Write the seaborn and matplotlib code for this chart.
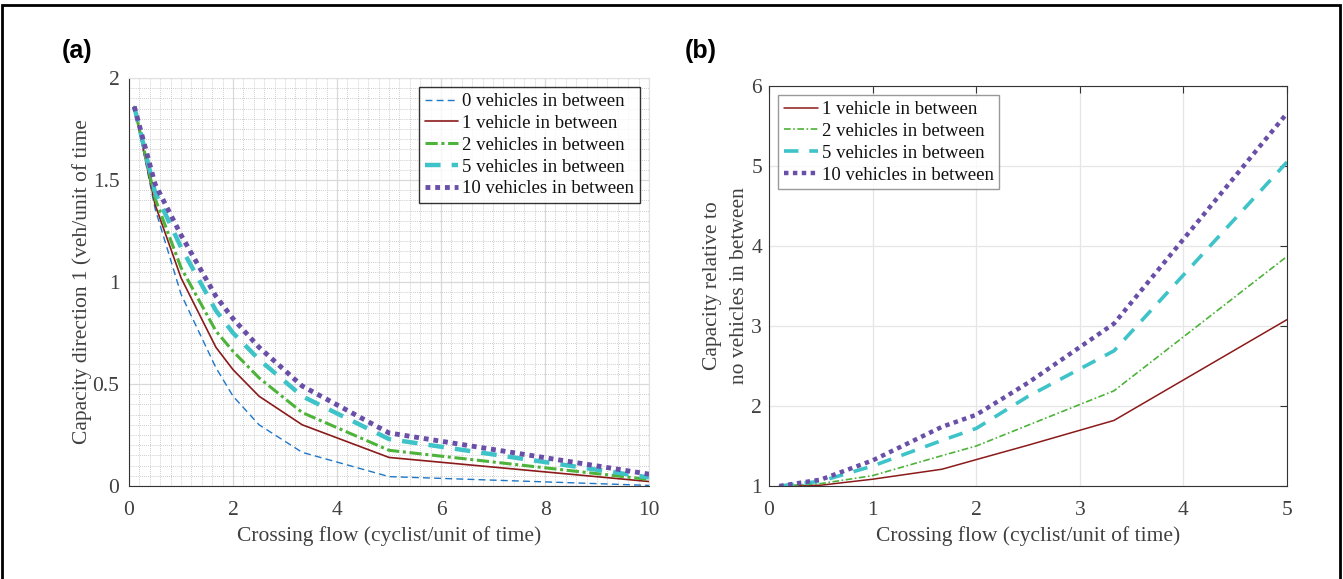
import matplotlib
matplotlib.use('Agg')
import matplotlib.pyplot as plt
import seaborn as sns
from matplotlib.patches import Rectangle
from matplotlib.ticker import MultipleLocator


flow = [0.1, 0.5, 1, 1.67, 2, 2.5, 3.33, 5, 10]
cap_0 = [1.86, 1.36, 0.94, 0.58, 0.44, 0.30, 0.165, 0.046, 0.003]
cap_1 = [1.86, 1.38, 1.02, 0.68, 0.57, 0.44, 0.30, 0.14, 0.022]
cap_2 = [1.86, 1.41, 1.07, 0.76, 0.66, 0.53, 0.36, 0.175, 0.032]
cap_5 = [1.86, 1.44, 1.17, 0.86, 0.75, 0.62, 0.44, 0.23, 0.042]
cap_10 = [1.86, 1.48, 1.23, 0.93, 0.82, 0.68, 0.49, 0.26, 0.058]

flow_rel = [0.1, 0.5, 1, 1.67, 2, 2.5, 3.33, 5]
rel_1 = [1.0, 1.01, 1.085, 1.21, 1.33, 1.51, 1.82, 3.08]
rel_2 = [1.0, 1.03, 1.13, 1.38, 1.50, 1.76, 2.19, 3.87]
rel_5 = [1.0, 1.06, 1.25, 1.57, 1.72, 2.12, 2.69, 5.05]
rel_10 = [1.0, 1.08, 1.32, 1.74, 1.89, 2.29, 3.03, 5.66]

blue = '#1f77c8'
red = '#8b1a1a'
green = '#4db33a'
cyan = '#3ec3c8'
purple = '#6a4fa8'

sns.set_style('white')
plt.rcParams['font.family'] = ['Liberation Serif', 'DejaVu Serif']
plt.rcParams['xtick.direction'] = 'in'
plt.rcParams['ytick.direction'] = 'in'

fig = plt.figure(figsize=(13.43, 5.79), dpi=100)
ax1 = fig.add_axes([0.0961, 0.1606, 0.3872, 0.7047])
ax2 = fig.add_axes([0.5726, 0.1606, 0.3857, 0.6908])

txt = '#404040'
fs = 15.5

# ---- panel (a)
sns.lineplot(x=flow, y=cap_0, ax=ax1, color=blue, lw=1, linestyle=(0, (5, 3)),
             label='0 vehicles in between')
sns.lineplot(x=flow, y=cap_1, ax=ax1, color=red, lw=1.2, linestyle='-',
             label='1 vehicle in between')
sns.lineplot(x=flow, y=cap_2, ax=ax1, color=green, lw=2.2, linestyle=(0, (4, 1.2, 1, 1.2)),
             label='2 vehicles in between')
sns.lineplot(x=flow, y=cap_5, ax=ax1, color=cyan, lw=3.2, linestyle=(0, (3.5, 2.5)),
             label='5 vehicles in between')
sns.lineplot(x=flow, y=cap_10, ax=ax1, color=purple, lw=3.5, linestyle=(0, (1, 1)),
             label='10 vehicles in between')

ax1.set_xlim(0, 10)
ax1.set_ylim(0, 2)
ax1.set_xticks([0, 2, 4, 6, 8, 10])
ax1.set_yticks([0, 0.5, 1, 1.5, 2])
ax1.set_yticklabels(['0', '0.5', '1', '1.5', '2'])
ax1.xaxis.set_minor_locator(MultipleLocator(0.2))
ax1.yaxis.set_minor_locator(MultipleLocator(0.05))
ax1.grid(which='major', color='#d9d9d9', lw=0.9)
ax1.grid(which='minor', color='#bdbdbd', lw=0.6, linestyle=(0, (1, 1.5)))
ax1.tick_params(which='minor', length=0)
ax1.tick_params(which='major', length=5, colors='#333333', labelcolor=txt, labelsize=fs,
                top=False, right=False)
ax1.tick_params(axis='x', pad=11)
ax1.tick_params(axis='y', pad=7)
for s in ['top', 'right']:
    ax1.spines[s].set_color('#e0e0e0')
for s in ['left', 'bottom']:
    ax1.spines[s].set_color('#333333')
ax1.set_xlabel('Crossing flow (cyclist/unit of time)', fontsize=fs, color=txt)
ax1.set_ylabel('Capacity direction 1 (veh/unit of time', fontsize=fs, color=txt,
               labelpad=0.5)
leg1 = ax1.legend(loc='upper right', fontsize=13.5, frameon=True, fancybox=False,
                  edgecolor='black', handlelength=1.8, handletextpad=0.2,
                  borderpad=0.3, labelspacing=0.25, borderaxespad=0.5)
leg1.get_frame().set_linewidth(1.0)
for t in leg1.get_texts():
    t.set_color('#111111')

# ---- panel (b)
sns.lineplot(x=flow_rel, y=rel_1, ax=ax2, color=red, lw=1.1, linestyle='-',
             label='1 vehicle in between')
sns.lineplot(x=flow_rel, y=rel_2, ax=ax2, color=green, lw=1.2, linestyle=(0, (4, 1.5, 1, 1.5)),
             label='2 vehicles in between')
sns.lineplot(x=flow_rel, y=rel_5, ax=ax2, color=cyan, lw=2.6, linestyle=(0, (4, 3)),
             label='5 vehicles in between')
sns.lineplot(x=flow_rel, y=rel_10, ax=ax2, color=purple, lw=3.2, linestyle=(0, (1, 1)),
             label='10 vehicles in between')

ax2.set_xlim(0, 5)
ax2.set_ylim(1, 6)
ax2.set_xticks([0, 1, 2, 3, 4, 5])
ax2.set_yticks([1, 2, 3, 4, 5, 6])
ax2.grid(which='major', color='#e6e6e6', lw=0.9)
ax2.tick_params(which='major', length=5, colors='#333333', labelcolor=txt, labelsize=fs,
                top=True, right=True)
ax2.tick_params(axis='x', pad=11)
ax2.tick_params(axis='y', pad=5)
for s in ax2.spines.values():
    s.set_color('#333333')
ax2.set_xlabel('Crossing flow (cyclist/unit of time)', fontsize=fs, color=txt)
ax2.set_ylabel('Capacity relative to\nno vehicles in between', fontsize=fs, color=txt,
               linespacing=1.55, labelpad=2)
leg2 = ax2.legend(loc='upper left', fontsize=13.5, frameon=True, fancybox=False,
                  edgecolor='#808080', handlelength=1.8, handletextpad=0.2,
                  borderpad=0.3, labelspacing=0.25, borderaxespad=0.5)
leg2.get_frame().set_linewidth(1.0)
for t in leg2.get_texts():
    t.set_color('#111111')

fig.text(0.046, 0.912, '(a)', fontsize=18, fontweight='bold', va='center', color='black',
         family=['Liberation Sans', 'DejaVu Sans'])
fig.text(0.51, 0.912, '(b)', fontsize=18, fontweight='bold', va='center', color='black',
         family=['Liberation Sans', 'DejaVu Sans'])

fig.patches.append(Rectangle((0.0015, -0.1), 0.996, 1.092, transform=fig.transFigure,
                             fill=False, edgecolor='black', lw=2))

fig.savefig('out.png', dpi=100)
